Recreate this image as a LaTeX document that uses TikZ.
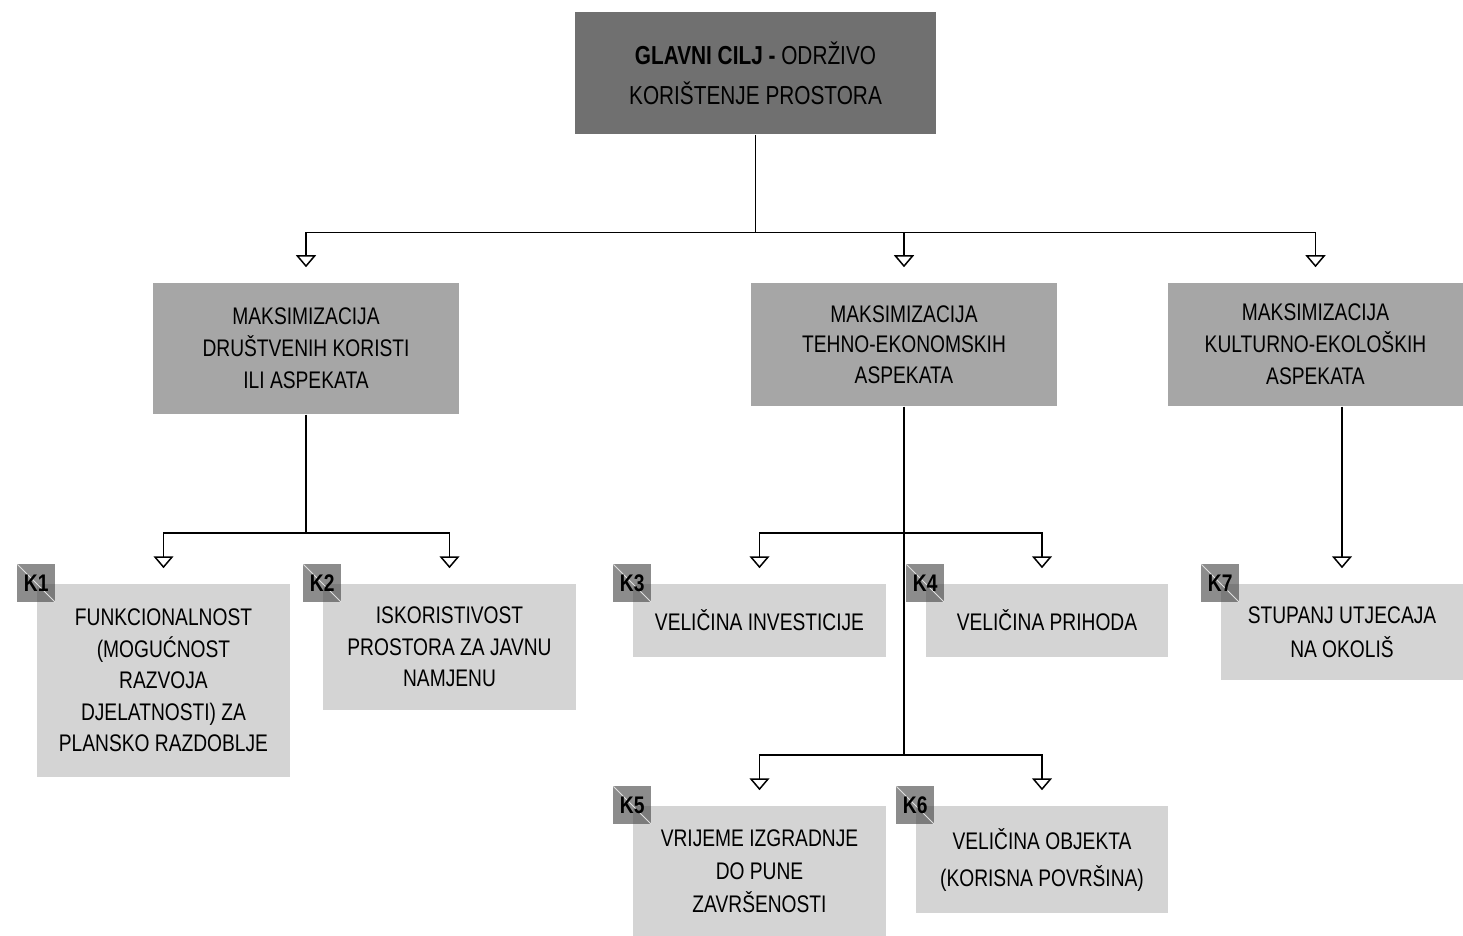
\documentclass[tikz,border=0pt]{standalone}
\usepackage{fontspec}
\setmainfont{Liberation Sans}[FakeStretch=0.8]
\usetikzlibrary{positioning}
\usetikzlibrary{arrows.meta}
\tikzset{>={Triangle[open,width=10pt,length=6pt]}}
\definecolor{topgray}{gray}{0.44}
\definecolor{midgray}{gray}{0.65}
\definecolor{critgray}{gray}{0.83}

\begin{document}
\begin{tikzpicture}[x=0.5pt, y=-0.5pt, line width=0.75pt,
    topnode/.style={fill=topgray, inner sep=0pt, align=center, font=\fontsize{13}{20}\selectfont},
    midnode/.style={fill=midgray, inner sep=0pt, align=center, font=\fontsize{12}{16}\selectfont},
    critnode/.style={fill=critgray, inner sep=0pt, align=center, font=\fontsize{12}{15.75}\selectfont},
    tagnode/.style={fill=black!75, fill opacity=0.6, text opacity=1, minimum size=19pt, inner sep=0pt, font=\fontsize{12}{14}\selectfont\bfseries,
        path picture={\draw[white!75!gray, thin] (path picture bounding box.north west) -- (path picture bounding box.south east);}},
    link/.style={->, shorten >=7.5pt}]

    \useasboundingbox (0,0) rectangle (1463,936);

    %Nodes
    \node[topnode, minimum width=180.5pt, minimum height=61pt](top) at (755.5,73){{\bfseries GLAVNI CILJ -} ODRŽIVO\\KORIŠTENJE PROSTORA};
    \node[midnode, minimum width=153pt, minimum height=65.5pt](mid1) at (306,348.5){MAKSIMIZACIJA\\DRUŠTVENIH KORISTI\\ILI ASPEKATA};
    \node[midnode, minimum width=153pt, minimum height=61.5pt, font=\fontsize{12}{15.25}\selectfont](mid2) at (904,344.5){MAKSIMIZACIJA\\TEHNO-EKONOMSKIH\\ASPEKATA};
    \node[midnode, minimum width=147.5pt, minimum height=61.5pt](mid3) at (1315.5,344.5){MAKSIMIZACIJA\\KULTURNO-EKOLOŠKIH\\ASPEKATA};

    \node[critnode, minimum width=126.5pt, minimum height=96.5pt](k1) at (163.5,680.5){FUNKCIONALNOST\\(MOGUĆNOST\\RAZVOJA\\DJELATNOSTI) ZA\\PLANSKO RAZDOBLJE};
    \node[critnode, minimum width=126.5pt, minimum height=63pt](k2) at (449.5,647){ISKORISTIVOST\\PROSTORA ZA JAVNU\\NAMJENU};
    \node[critnode, minimum width=126.5pt, minimum height=36.5pt](k3) at (759.5,620.5){VELIČINA INVESTICIJE};
    \node[critnode, minimum width=121pt, minimum height=36.5pt](k4) at (1047,620.5){VELIČINA PRIHODA};
    \node[critnode, minimum width=126.5pt, minimum height=65pt, font=\fontsize{12}{16.5}\selectfont](k5) at (759.5,871){VRIJEME IZGRADNJE\\DO PUNE\\ZAVRŠENOSTI};
    \node[critnode, minimum width=126pt, minimum height=53.5pt, font=\fontsize{12}{18.5}\selectfont](k6) at (1042,859.5){VELIČINA OBJEKTA\\(KORISNA POVRŠINA)};
    \node[critnode, minimum width=121pt, minimum height=48pt, font=\fontsize{12}{17}\selectfont](k7) at (1342,632){STUPANJ UTJECAJA\\NA OKOLIŠ};

    \node[tagnode](k1tag) at (k1.north west){K1};
    \node[tagnode](k2tag) at (k2.north west){K2};
    \node[tagnode](k3tag) at (k3.north west){K3};
    \node[tagnode](k4tag) at (k4.north west){K4};
    \node[tagnode](k5tag) at (k5.north west){K5};
    \node[tagnode](k6tag) at (k6.north west){K6};
    \node[tagnode](k7tag) at (k7.north west){K7};

    \coordinate (topfork) at ([yshift=-49pt]top.south);
    \coordinate (leftfork) at ([yshift=-59pt]mid1.south);
    \coordinate (midfork) at ([yshift=-63pt]mid2.south);
    \coordinate (lowfork) at ([yshift=-174pt]mid2.south);

    %Lines
    \draw (top.south) -- (topfork);
    \draw[link] (topfork) -| (mid1.north);
    \draw[link] (topfork) -| (mid2.north);
    \draw[link] (topfork) -| (mid3.north);
    \draw (mid1.south) -- (leftfork);
    \draw[link] (leftfork) -| (k1.north);
    \draw[link] (leftfork) -| (k2.north);
    \draw (mid2.south) -- (lowfork);
    \draw[link] (midfork) -| (k3.north);
    \draw[link] (midfork) -| ([xshift=-2.5pt]k4.north);
    \draw[link] (lowfork) -| (k5.north);
    \draw[link] (lowfork) -| (k6.north);
    \draw[link] (mid3.south -| k7.north) -- (k7.north);

\end{tikzpicture}
\end{document}
